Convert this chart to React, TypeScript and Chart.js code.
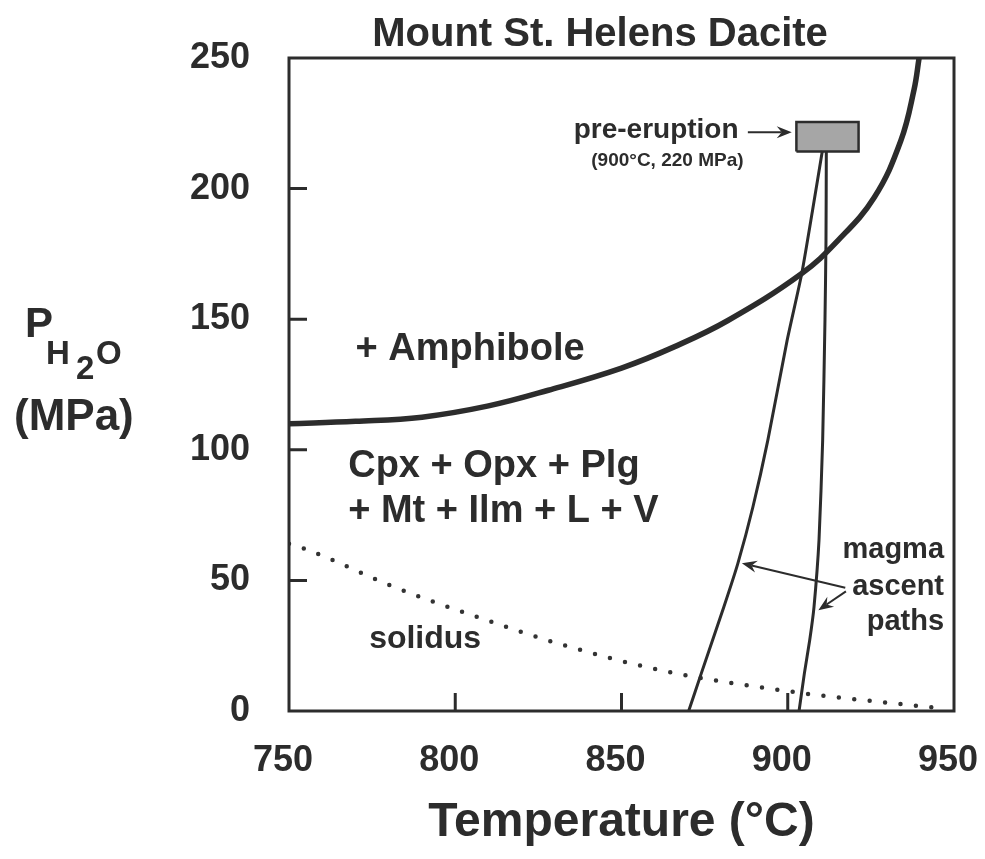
import { useEffect, useRef } from "react";
import { Chart, registerables } from "chart.js";

Chart.register(...registerables);

const FONT = '"Liberation Sans", Arial, Helvetica, sans-serif';
const INK = "#2c2c2c";

// Axis ticks
const xTickValues = [750, 800, 850, 900, 950];
const yTickValues = [0, 50, 100, 150, 200, 250];

// Amphibole stability boundary (T °C, P MPa)
const amphiboleT = [750, 770, 790, 810, 828, 850, 866, 882, 904, 915, 926, 934, 938, 939.5];
const amphiboleP = [110, 110.9, 112.5, 116.8, 122.8, 131.3, 139.5, 149.5, 167.3, 180, 196.6, 218.3, 238, 250];

// Magma ascent path A (left)
const pathAT = [870.2, 874, 880.8, 885, 889.5, 894, 899.8, 904.2, 907.5, 910.4];
const pathAP = [0, 14.4, 39.9, 56.5, 78, 103.6, 141.8, 167.4, 192, 214.4];

// Magma ascent path B (right)
const pathBT = [903.4, 905, 906.6, 907.9, 909.4, 910.5, 911.2, 911.5, 911.6];
const pathBP = [0, 14.4, 27.1, 39.9, 65.4, 103.6, 150, 180, 214.4];

// Solidus (dotted)
const solidusT = [750, 755, 782.5, 805, 831.6, 863.9, 900, 909, 945.5];
const solidusP = [64, 62, 47, 36.7, 25.6, 15, 7.6, 6.1, 1.1];

// Pre-eruption box corners
const boxT = [902.6, 902.6, 921.3, 921.3, 902.6];
const boxP = [214.2, 225.5, 225.5, 214.2, 214.2];

// Text annotations in data coordinates
const labels = [
  { text: "+ Amphibole", t: 770, p: 134.2, size: 38, align: "left" },
  { text: "Cpx + Opx + Plg", t: 767.8, p: 89.4, size: 38, align: "left" },
  { text: "+ Mt + Ilm + L + V", t: 767.8, p: 72.2, size: 38, align: "left" },
  { text: "solidus", t: 774.1, p: 24.1, size: 32, align: "left" },
  { text: "pre-eruption", t: 885.2, p: 219.5, size: 28, align: "right" },
  { text: "(900°C, 220 MPa)", t: 886.7, p: 208.7, size: 19, align: "right" },
  { text: "magma", t: 947, p: 58.5, size: 29, align: "right" },
  { text: "ascent", t: 947, p: 44.3, size: 29, align: "right" },
  { text: "paths", t: 947, p: 31, size: 29, align: "right" },
];

const arrows = [
  { fromT: 888, fromP: 221.6, toT: 901.2, toP: 221.6 },
  { fromT: 917.3, fromP: 47.2, toT: 886.2, toP: 56.6 },
  { fromT: 917.5, fromP: 45.8, toT: 909.2, toP: 38.6 },
];

const toXY = (ts: number[], ps: number[]) => ts.map((t, i) => ({ x: t, y: ps[i] }));

const decorPlugin = {
  id: "decor",
  afterDatasetsDraw(chart: any) {
    const { ctx, chartArea, scales } = chart;
    const xs = scales.x;
    const ys = scales.y;
    ctx.save();
    // frame
    ctx.strokeStyle = INK;
    ctx.lineWidth = 3;
    ctx.strokeRect(chartArea.left, chartArea.top, chartArea.width, chartArea.height);
    // inward ticks
    const TL = 18;
    ctx.lineWidth = 3;
    ctx.beginPath();
    xs.ticks.forEach((tk: any) => {
      if (tk.value <= xs.min || tk.value >= xs.max) return;
      const px = xs.getPixelForValue(tk.value);
      ctx.moveTo(px, chartArea.bottom);
      ctx.lineTo(px, chartArea.bottom - TL);
    });
    ys.ticks.forEach((tk: any) => {
      if (tk.value <= ys.min || tk.value >= ys.max) return;
      const py = ys.getPixelForValue(tk.value);
      ctx.moveTo(chartArea.left, py);
      ctx.lineTo(chartArea.left + TL, py);
    });
    ctx.stroke();

    // arrows
    ctx.lineWidth = 2;
    ctx.fillStyle = INK;
    arrows.forEach((a) => {
      const x1 = xs.getPixelForValue(a.fromT);
      const y1 = ys.getPixelForValue(a.fromP);
      const x2 = xs.getPixelForValue(a.toT);
      const y2 = ys.getPixelForValue(a.toP);
      const ang = Math.atan2(y2 - y1, x2 - x1);
      const L = 15;
      const W = 6;
      const N = 10;
      const cos = Math.cos(ang);
      const sin = Math.sin(ang);
      ctx.beginPath();
      ctx.moveTo(x1, y1);
      ctx.lineTo(x2 - N * cos, y2 - N * sin);
      ctx.stroke();
      ctx.beginPath();
      ctx.moveTo(x2, y2);
      ctx.lineTo(x2 - L * cos - W * sin, y2 - L * sin + W * cos);
      ctx.lineTo(x2 - N * cos, y2 - N * sin);
      ctx.lineTo(x2 - L * cos + W * sin, y2 - L * sin - W * cos);
      ctx.closePath();
      ctx.fill();
    });

    // text labels
    ctx.fillStyle = INK;
    ctx.textBaseline = "alphabetic";
    labels.forEach((l) => {
      ctx.font = `bold ${l.size}px ${FONT}`;
      ctx.textAlign = l.align as CanvasTextAlign;
      ctx.fillText(l.text, xs.getPixelForValue(l.t), ys.getPixelForValue(l.p));
    });

    // title
    ctx.font = `bold 40px ${FONT}`;
    ctx.textAlign = "center";
    ctx.fillText("Mount St. Helens Dacite", chartArea.left + 311, chartArea.top - 12);

    // y-axis title: P_H2O (MPa)
    const lx = chartArea.left - 264;
    const by = ys.getPixelForValue(150);
    ctx.textAlign = "left";
    ctx.font = `bold 42px ${FONT}`;
    ctx.fillText("P", lx, by + 18);
    ctx.font = `bold 33px ${FONT}`;
    ctx.fillText("H", lx + 21, by + 45);
    ctx.fillText("2", lx + 51, by + 60);
    ctx.fillText("O", lx + 71, by + 45);
    ctx.font = `bold 44px ${FONT}`;
    ctx.fillText("(MPa)", lx - 11, by + 111);
    ctx.restore();
  },
};

export default function App() {
  const ref = useRef<HTMLCanvasElement | null>(null);
  useEffect(() => {
    if (!ref.current) return;
    const tickFont = { family: FONT, size: 36, weight: "bold" as const };
    const chart = new Chart(ref.current, {
      type: "scatter",
      data: {
        datasets: [
          {
            label: "Amphibole boundary",
            data: toXY(amphiboleT, amphiboleP),
            showLine: true,
            borderColor: INK,
            borderWidth: 5.5,
            pointRadius: 0,
            tension: 0.4,
            fill: false,
          },
          {
            label: "Ascent path A",
            data: toXY(pathAT, pathAP),
            showLine: true,
            borderColor: INK,
            borderWidth: 3,
            pointRadius: 0,
            tension: 0.2,
            fill: false,
          },
          {
            label: "Ascent path B",
            data: toXY(pathBT, pathBP),
            showLine: true,
            borderColor: INK,
            borderWidth: 3,
            pointRadius: 0,
            tension: 0.2,
            fill: false,
          },
          {
            label: "Solidus",
            data: toXY(solidusT, solidusP),
            showLine: true,
            borderColor: "#333333",
            borderWidth: 4.5,
            borderDash: [0, 15.5],
            borderCapStyle: "round",
            pointRadius: 0,
            cubicInterpolationMode: "monotone",
            fill: false,
          },
          {
            label: "Pre-eruption",
            data: toXY(boxT, boxP),
            showLine: true,
            borderColor: INK,
            borderWidth: 2.5,
            backgroundColor: "#a6a6a6",
            pointRadius: 0,
            tension: 0,
            fill: "shape",
          } as any,
        ],
      },
      options: {
        responsive: false,
        animation: false,
        devicePixelRatio: 1,
        layout: { padding: { top: 58, right: 31, left: 0, bottom: 0 } },
        plugins: {
          legend: { display: false },
          title: { display: false },
          tooltip: { enabled: false },
        },
        scales: {
          x: {
            type: "linear",
            min: 750,
            max: 950,
            afterBuildTicks: (s: any) => {
              s.ticks = xTickValues.map((v) => ({ value: v }));
            },
            afterFit: (s: any) => {
              s.height = 148;
              s.paddingLeft = 0;
              s.paddingRight = 0;
            },
            grid: { display: false, drawTicks: false },
            border: { display: false },
            ticks: { font: tickFont, color: INK, padding: 28, maxRotation: 0, labelOffset: -6 },
            title: {
              display: true,
              text: "Temperature (°C)",
              font: { family: FONT, size: 48, weight: "bold" },
              color: INK,
              padding: { top: 0, bottom: 7 },
            },
          },
          y: {
            type: "linear",
            min: 0,
            max: 250,
            afterBuildTicks: (s: any) => {
              s.ticks = yTickValues.map((v) => ({ value: v }));
            },
            afterFit: (s: any) => {
              s.width = 289;
              s.paddingTop = 0;
              s.paddingBottom = 0;
            },
            grid: { display: false, drawTicks: false },
            border: { display: false },
            ticks: { font: tickFont, color: INK, padding: 39 },
          },
        },
      },
      plugins: [decorPlugin],
    });
    return () => chart.destroy();
  }, []);
  return (
    <div style={{ position: "fixed", left: 0, top: 0, width: 985, height: 859, background: "#fff" }}>
      <canvas ref={ref} width={985} height={859} />
    </div>
  );
}
